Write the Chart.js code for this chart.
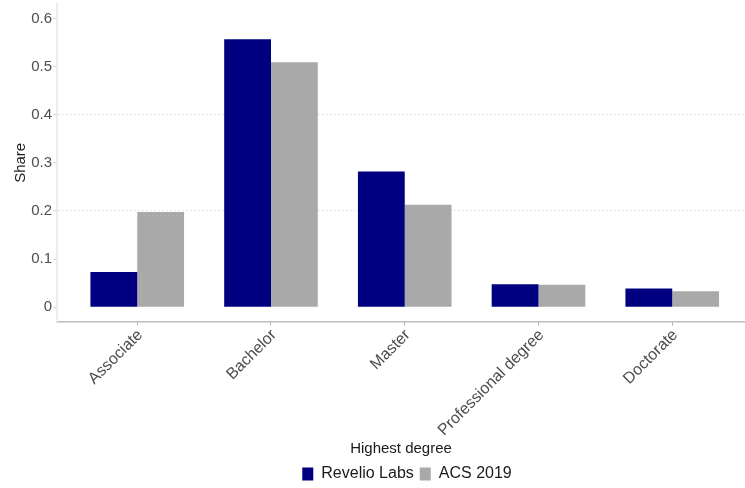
<!DOCTYPE html>
<html>
<head>
<meta charset="utf-8">
<script src="https://cdn.jsdelivr.net/npm/chart.js@4/dist/chart.umd.min.js"></script>
<style>
  html, body { margin: 0; padding: 0; background: #ffffff; overflow: hidden; }
  #wrap { width: 745px; height: 488px; }
</style>
</head>
<body>
<div id="wrap"><canvas id="c" width="745" height="488"></canvas></div>
<script>
const categories = ["Associate", "Bachelor", "Master", "Professional degree", "Doctorate"];
const revelioLabs = [0.073, 0.557, 0.282, 0.048, 0.039];
const acs2019 = [0.198, 0.509, 0.213, 0.047, 0.033];
const yTickValues = [0, 0.1, 0.2, 0.3, 0.4, 0.5, 0.6];
const yGridValues = [0.2, 0.4];
const seriesNames = ["Revelio Labs", "ACS 2019"];
const seriesColors = ["#000080", "#a9a9a9"];

const FONT = "'Liberation Sans', Arial, sans-serif";

const toPoints = arr => arr.map((v, i) => ({ x: i + 1, y: v }));

// centre the legend under the (wider, cropped) plot panel like the original
const legendShift = {
  id: 'legendShift',
  afterLayout(chart) {
    if (chart.legend) { chart.legend.left += 6; chart.legend.right += 6; }
  }
};

new Chart(document.getElementById('c'), {
  type: 'bar',
  plugins: [legendShift],
  data: {
    datasets: [
      { label: seriesNames[0], data: toPoints(revelioLabs), backgroundColor: seriesColors[0], borderWidth: 0,
        categoryPercentage: 0.7, barPercentage: 1.0 },
      { label: seriesNames[1], data: toPoints(acs2019), backgroundColor: seriesColors[1], borderWidth: 0,
        categoryPercentage: 0.7, barPercentage: 1.0 }
    ]
  },
  options: {
    responsive: false,
    animation: false,
    layout: { padding: { top: 4, bottom: -4, left: 0, right: 0 } },
    plugins: {
      tooltip: { enabled: false },
      legend: {
        position: 'bottom',
        fullSize: false,
        labels: {
          font: { family: FONT, size: 16 },
          color: '#1a1a1a',
          boxWidth: 11,
          boxHeight: 13,
          padding: 6
        }
      }
    },
    scales: {
      x: {
        type: 'linear',
        offset: false,
        min: 0.4,
        max: 5.544,
        afterBuildTicks: s => { s.ticks = categories.map((c, i) => ({ value: i + 1 })); },
        afterFit: s => { s.height = 138.3; s.paddingLeft = 0; s.paddingRight = 0; },
        ticks: {
          autoSkip: false,
          minRotation: 45,
          maxRotation: 45,
          padding: 0,
          labelOffset: 3,
          color: '#4d4d4d',
          font: { family: FONT, size: 16 },
          callback: v => categories[Math.round(v) - 1]
        },
        grid: { display: true, offset: false, drawOnChartArea: false, drawTicks: true, tickLength: 4, tickColor: '#b3b3b3' },
        border: { display: true, color: '#bdbdbd', width: 1.5 },
        title: {
          display: true,
          text: 'Highest degree',
          color: '#1a1a1a',
          font: { family: FONT, size: 15 },
          padding: { top: 0, bottom: 2 }
        }
      },
      y: {
        type: 'linear',
        min: -0.03,
        max: 0.63,
        afterBuildTicks: s => { s.ticks = yTickValues.map(v => ({ value: v })); },
        afterFit: s => { s.width = 57; s.paddingTop = 0; s.paddingBottom = 0; },
        ticks: {
          padding: 1,
          color: '#4d4d4d',
          font: { family: FONT, size: 15 },
          callback: v => String(v)
        },
        grid: {
          drawTicks: true,
          tickLength: 4,
          tickColor: '#d9d9d9',
          color: ctx => (ctx.tick && yGridValues.some(g => Math.abs(g - ctx.tick.value) < 1e-9)) ? 'rgba(0,0,0,0.10)' : 'rgba(0,0,0,0)'
        },
        border: { display: true, color: '#ececec', width: 2, dash: [2, 2] },
        title: {
          display: true,
          text: 'Share',
          color: '#1a1a1a',
          font: { family: FONT, size: 15 },
          padding: { top: 12, bottom: 0 }
        }
      }
    }
  }
});
</script>
</body>
</html>
